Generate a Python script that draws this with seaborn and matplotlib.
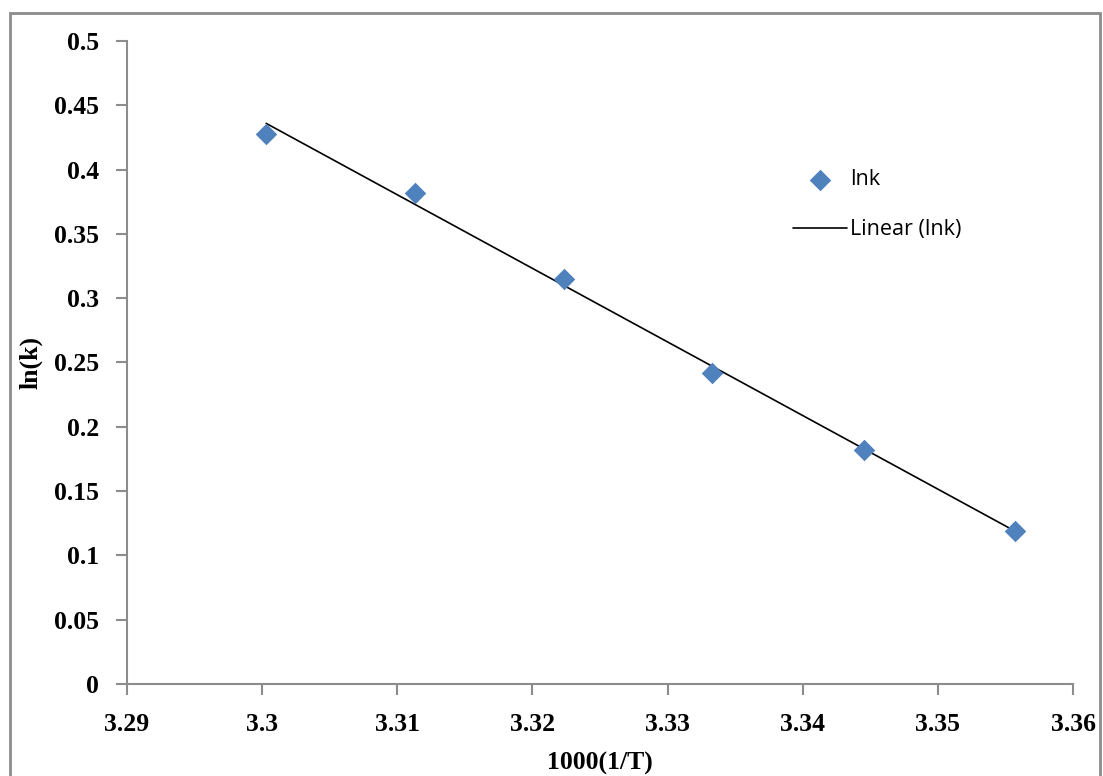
import matplotlib
matplotlib.use("Agg")
import matplotlib.pyplot as plt
import seaborn as sns
import numpy as np
import pandas as pd
from matplotlib.patches import Rectangle

# data
inv_T = [3.3003, 3.3113, 3.3223, 3.3333, 3.3445, 3.3557]
ln_k = [0.428, 0.382, 0.315, 0.242, 0.182, 0.119]
x_ticks = [3.29, 3.30, 3.31, 3.32, 3.33, 3.34, 3.35, 3.36]
x_tick_labels = ["3.29", "3.3", "3.31", "3.32", "3.33", "3.34", "3.35", "3.36"]
y_ticks = [0, 0.05, 0.1, 0.15, 0.2, 0.25, 0.3, 0.35, 0.4, 0.45, 0.5]
y_tick_labels = ["0", "0.05", "0.1", "0.15", "0.2", "0.25", "0.3", "0.35", "0.4", "0.45", "0.5"]

df = pd.DataFrame({"x": inv_T, "y": ln_k})

sns.set_style("white")
plt.rcParams["text.color"] = "black"
W, H = 1103, 776
fig = plt.figure(figsize=(W / 100, H / 100), dpi=100)
ax = fig.add_axes([127 / W, 1 - 684 / H, (1073 - 127) / W, (684 - 41) / H])

# outer chart border
fig.patches.append(Rectangle((10 / W, -0.05), (1100 - 10) / W, 1 - 13 / H + 0.05,
                             transform=fig.transFigure, fill=False,
                             edgecolor="#8c8c8c", linewidth=2))

sns.regplot(data=df, x="x", y="y", ax=ax, ci=None, scatter=False,
            label="Linear (lnk)",
            line_kws=dict(color="black", linewidth=1.2))
sns.scatterplot(data=df, x="x", y="y", ax=ax, marker="D", s=120,
                color="#4F81BD", edgecolor="#4F81BD", linewidth=0, label="lnk", zorder=3)

ax.set_xlim(3.29, 3.36)
ax.set_ylim(0, 0.5)
ax.set_xticks(x_ticks)
ax.set_xticklabels(x_tick_labels)
ax.set_yticks(y_ticks)
ax.set_yticklabels(y_tick_labels)

for s in ["top", "right"]:
    ax.spines[s].set_visible(False)
for s in ["left", "bottom"]:
    ax.spines[s].set_color("#8c8c8c")
    ax.spines[s].set_linewidth(1.5)
ax.tick_params(axis="both", which="major", direction="out", length=8, width=1.5,
               color="#8c8c8c", labelcolor="black", labelsize=18.5,
               bottom=True, left=True)
ax.tick_params(axis="y", pad=12)
ax.tick_params(axis="x", pad=13)
for lab in ax.get_xticklabels() + ax.get_yticklabels():
    lab.set_fontfamily("Liberation Serif")
    lab.set_fontweight("bold")

ax.set_xlabel("1000(1/T)", fontfamily="Liberation Serif", fontweight="bold",
              fontsize=18.5, color="black")
ax.set_ylabel("ln(k)", fontfamily="Liberation Serif", fontweight="bold",
              fontsize=18.5, color="black")
ax.xaxis.set_label_coords(0.5, -0.105)
ax.yaxis.set_label_coords(-0.089, 0.5)

handles, labels = ax.get_legend_handles_labels()
order = [labels.index("lnk"), labels.index("Linear (lnk)")]
leg = ax.legend([handles[i] for i in order], [labels[i] for i in order],
                loc="upper left", bbox_to_anchor=(774 / W, 1 - 150 / H),
                bbox_transform=fig.transFigure, frameon=False,
                prop={"family": "Open Sans", "size": 15.5}, handlelength=2.5,
                labelspacing=1.35, handletextpad=0.15)
for t in leg.get_texts():
    t.set_color("black")

fig.savefig("out.png", dpi=100)
